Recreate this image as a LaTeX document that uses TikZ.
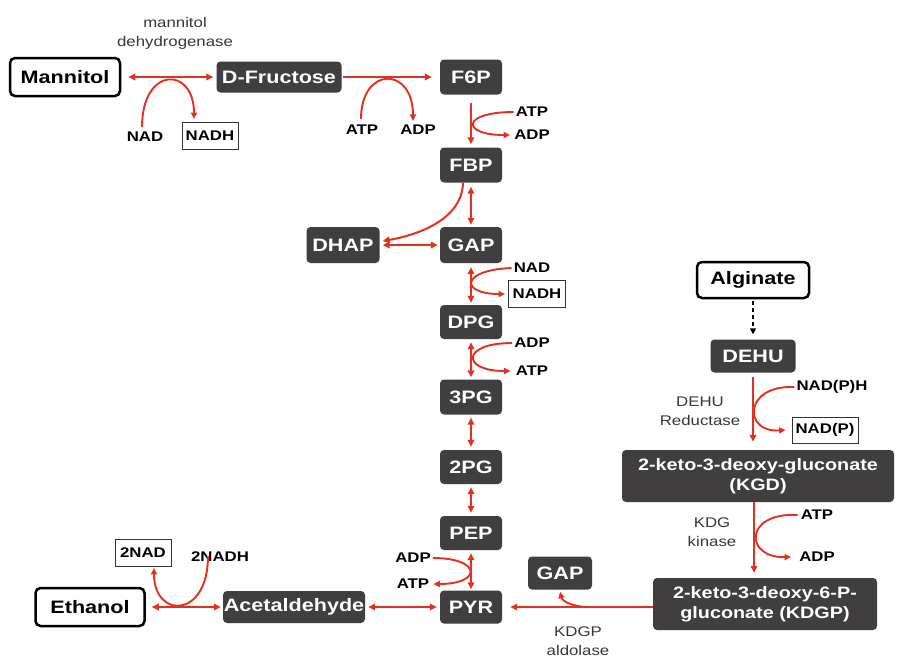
\documentclass[tikz,border=0pt]{standalone}
\usepackage{fontspec}
\setmainfont{Liberation Sans}
\newfontfamily\lab[FakeStretch=1.2]{Liberation Sans}
\usetikzlibrary{arrows.meta}
\definecolor{rxnred}{RGB}{226,48,33}
\definecolor{boxgray}{RGB}{64,62,62}
\definecolor{enzgray}{RGB}{55,55,55}
\begin{document}
\begin{tikzpicture}[x=1pt,y=-1pt,
  dark/.style={rectangle,rounded corners=4pt,fill=boxgray,text=white,inner sep=0pt,
    font=\lab\bfseries\fontsize{18}{21}\selectfont},
  darksm/.style={dark,align=center,font=\lab\bfseries\fontsize{16.5}{20}\selectfont},
  outl/.style={rectangle,rounded corners=5pt,draw=black,line width=2.5pt,fill=white,inner sep=0pt,
    font=\lab\bfseries\fontsize{18}{21}\selectfont},
  lbl/.style={inner sep=0pt,font=\lab\bfseries\fontsize{14}{16}\selectfont},
  boxlbl/.style={lbl,draw=black!80,line width=0.9pt},
  enz/.style={inner sep=0pt,align=center,text=enzgray,font=\lab\fontsize{14}{19}\selectfont},
  rxn/.style={draw=rxnred,line width=2pt,arrows={-Triangle[length=7pt,width=6.5pt]}},
  rxnb/.style={rxn,arrows={Triangle[length=7pt,width=6.5pt]-Triangle[length=7pt,width=6.5pt]}},
  side/.style={draw=rxnred,line width=1.9pt,arrows={-Triangle[length=6.5pt,width=6pt]}}
]
\useasboundingbox (0,0) rectangle (897,657);
\fill[white] (0,0) rectangle (897,657);

% main nodes
\node[outl,minimum width=110pt,minimum height=38pt] (Mannitol) at (65,77) {Mannitol};
\node[dark,minimum width=125pt,minimum height=31pt] (DFru) at (279,77) {D-Fructose};
\node[dark,minimum width=62pt,minimum height=35pt] (F6P) at (471,77) {F6P};
\node[dark,minimum width=62pt,minimum height=35pt] (FBP) at (471,165) {FBP};
\node[dark,minimum width=73pt,minimum height=36pt] (DHAP) at (343,245) {DHAP};
\node[dark,minimum width=62pt,minimum height=36pt] (GAP) at (471,245) {GAP};
\node[dark,minimum width=62pt,minimum height=34pt] (DPG) at (471,322) {DPG};
\node[dark,minimum width=62pt,minimum height=35pt] (PG3) at (471,397) {3PG};
\node[dark,minimum width=62pt,minimum height=34pt] (PG2) at (471,467) {2PG};
\node[dark,minimum width=62pt,minimum height=34pt] (PEP) at (471,533) {PEP};
\node[dark,minimum width=62pt,minimum height=33pt] (PYR) at (471,607) {PYR};
\node[dark,minimum width=64pt,minimum height=33pt] (GAPb) at (560,573) {GAP};
\node[outl,minimum width=112pt,minimum height=36pt] (Alg) at (753,280) {Alginate};
\node[dark,minimum width=85pt,minimum height=33pt] (DEHU) at (753,356) {DEHU};
\node[darksm,minimum width=272pt,minimum height=52pt] (KGD) at (758,476) {2-keto-3-deoxy-gluconate\\(KGD)};
\node[darksm,minimum width=224pt,minimum height=52pt] (KDGP) at (765,604) {2-keto-3-deoxy-6-P-\\gluconate (KDGP)};
\node[outl,minimum width=109pt,minimum height=38pt] (Eth) at (90,607) {Ethanol};
\node[dark,minimum width=142pt,minimum height=32pt] (Acet) at (294,607) {Acetaldehyde};

% labels
\node[enz] (mdh) at (175,33) {mannitol\\dehydrogenase};
\node[lbl] (NADa) at (145,137) {NAD};
\node[boxlbl,minimum width=56pt,minimum height=27pt] (NADHa) at (210,136) {NADH};
\node[lbl] (ATPa) at (362,130) {ATP};
\node[lbl] (ADPa) at (418,130) {ADP};
\node[lbl] (ATPb) at (532,112) {ATP};
\node[lbl] (ADPb) at (532,135) {ADP};
\node[lbl] (NADb) at (532,268) {NAD};
\node[boxlbl,minimum width=57pt,minimum height=27pt] (NADHb) at (537,294) {NADH};
\node[lbl] (ADPc) at (532,343) {ADP};
\node[lbl] (ATPc) at (532,371) {ATP};
\node[lbl] (ADPd) at (413,558) {ADP};
\node[lbl] (ATPd) at (413,584) {ATP};
\node[enz] (ald) at (578,641) {KDGP\\aldolase};
\node[enz] (red) at (700,411) {DEHU\\Reductase};
\node[lbl] (NADPH) at (832,387) {NAD(P)H};
\node[boxlbl,minimum width=66pt,minimum height=26pt] (NADP) at (825,430) {NAD(P)};
\node[enz] (kin) at (712,532) {KDG\\kinase};
\node[lbl] (ATPe) at (817,515) {ATP};
\node[lbl] (ADPe) at (817,557) {ADP};
\node[boxlbl,minimum width=56pt,minimum height=27pt] (NAD2) at (143,553) {2NAD};
\node[lbl] (NADH2) at (220,557) {2NADH};

% main connectors
\draw[rxnb] ([xshift=7pt]Mannitol.east) -- ([xshift=-3pt]DFru.west);
\draw[rxn] ([xshift=1pt]DFru.east) -- ([xshift=-8pt]F6P.west);
\draw[rxn] ([yshift=-8pt]F6P.south) -- ([yshift=3pt]FBP.north);
\draw[rxnb] ([yshift=-4pt]FBP.south) -- ([yshift=2pt]GAP.north);
\draw[rxnb] ([xshift=3pt]DHAP.east) -- ([xshift=-2pt]GAP.west);
\draw[rxn] ([xshift=-8pt]FBP.south) .. controls (462,222) and (412,236) .. ([xshift=3pt,yshift=4pt]DHAP.east);
\draw[rxnb] ([yshift=-4pt]GAP.south) -- ([yshift=2pt]DPG.north);
\draw[rxnb] ([yshift=-3pt]DPG.south) -- ([yshift=2pt]PG3.north);
\draw[rxnb] ([yshift=-3pt]PG3.south) -- ([yshift=3pt]PG2.north);
\draw[rxnb] ([yshift=-3pt]PG2.south) -- ([yshift=3pt]PEP.north);
\draw[rxnb] ([yshift=-3pt]PEP.south) -- ([yshift=1pt]PYR.north);
\draw[rxnb] ([xshift=3pt]Acet.east) -- ([xshift=-3pt]PYR.west);
\draw[rxnb] ([xshift=6pt]Eth.east) -- ([xshift=-2pt]Acet.west);
\draw[rxn] (KDGP.west |- PYR) -- ([xshift=8pt]PYR.east);
\draw[black,line width=1.5pt,dash pattern=on 4pt off 3pt,arrows={-Triangle[length=6pt,width=6pt]}]
  ([yshift=-2pt]Alg.south) -- ([yshift=5pt]DEHU.north);
\coordinate (kx) at (753,0);
\draw[rxn] ([yshift=-4pt]DEHU.south) -- ([yshift=8pt]kx |- KGD.north);
\coordinate (kx2) at (754,0);
\draw[rxn] (kx2 |- KGD.south) -- ([yshift=5pt]kx2 |- KDGP.north);

% co-substrate curves
\draw[side] ([xshift=-3pt,yshift=5pt]NADa.north) .. controls (142,66) and (194,66) .. ([xshift=-16pt,yshift=3pt]NADHa.north);
\draw[side] ([xshift=-1pt,yshift=6pt]ATPa.north) .. controls (361,66) and (413,66) .. ([xshift=-5pt,yshift=4pt]ADPa.north);
\draw[side] ([xshift=-2pt]ATPb.west) .. controls (461,112) and (461,135) .. ([xshift=-4pt]ADPb.west);
\draw[side] ([xshift=-2pt]NADb.west) .. controls (460,270) and (460,294) .. ([xshift=-3pt]NADHb.west);
\draw[side] ([xshift=-2pt]ADPc.west) .. controls (461,343) and (461,371) .. ([xshift=-5pt]ATPc.west);
\draw[side] ([xshift=2pt]ADPd.east) .. controls (482,558) and (482,584) .. ([xshift=4pt]ATPd.east);
\draw[side] ([xshift=-2pt]NADPH.west) .. controls (743,385) and (743,433) .. ([xshift=-6pt]NADP.west);
\draw[side] ([xshift=-3pt]ATPe.west) .. controls (744,512) and (744,558) .. ([xshift=-8pt]ADPe.west);
\draw[side] ([xshift=-12pt,yshift=6pt]NADH2.south) .. controls (208,619) and (154,619) .. ([xshift=11pt,yshift=-1pt]NAD2.south);
\coordinate (br) at (590,607);
\draw[side] (br) .. controls (570,607) and (562,600) .. ([yshift=-2pt]GAPb.south);
\end{tikzpicture}
\end{document}
